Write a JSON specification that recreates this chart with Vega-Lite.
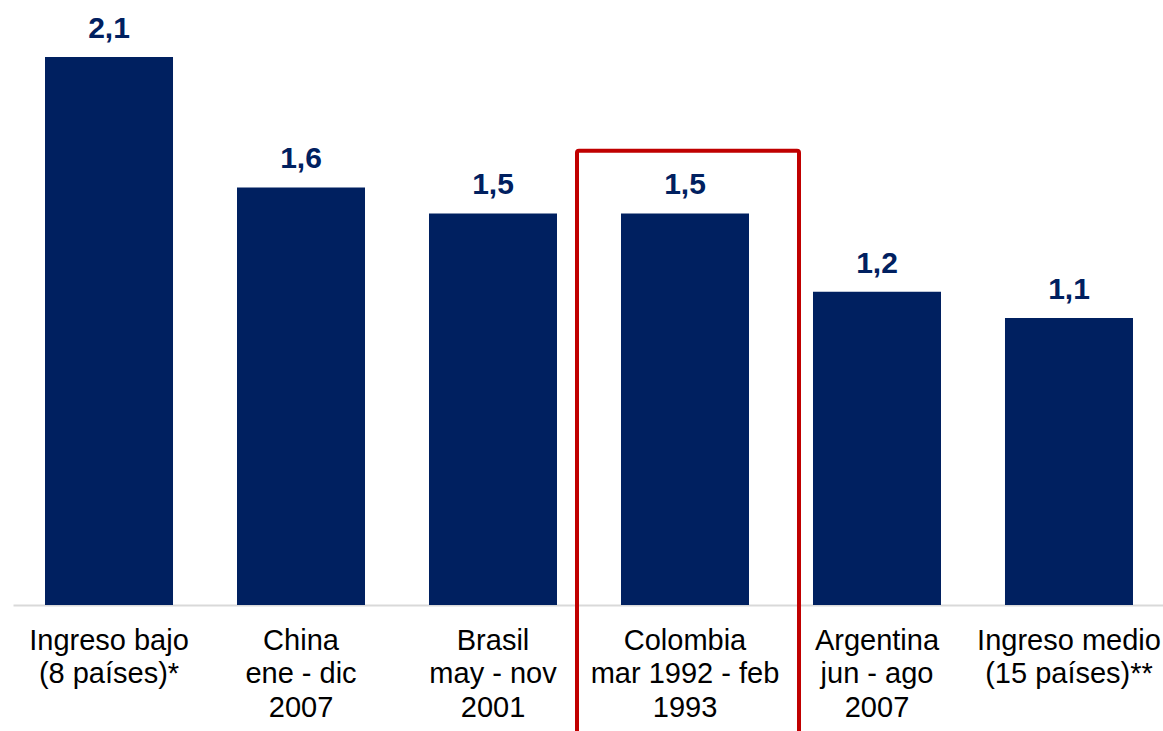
{
  "$schema": "https://vega.github.io/schema/vega-lite/v6.json",
  "width": 1152,
  "height": 605,
  "autosize": "none",
  "padding": {"left": 13, "top": 0, "right": 0, "bottom": 126},
  "background": "white",
  "config": {
    "view": {"stroke": null},
    "font": "Liberation Sans",
    "locale": {
      "number": {"decimal": ",", "thousands": ".", "grouping": [3], "currency": ["$", ""]}
    }
  },
  "data": {
    "values": [
      {"grupo": "Ingreso bajo|(8 países)*", "valor": 2.1, "destacado": false},
      {"grupo": "China|ene - dic|2007", "valor": 1.6, "destacado": false},
      {"grupo": "Brasil|may - nov|2001", "valor": 1.5, "destacado": false},
      {"grupo": "Colombia|mar 1992 - feb|1993", "valor": 1.5, "destacado": true},
      {"grupo": "Argentina|jun - ago|2007", "valor": 1.2, "destacado": false},
      {"grupo": "Ingreso medio|(15 países)**", "valor": 1.1, "destacado": false}
    ]
  },
  "encoding": {
    "x": {
      "field": "grupo",
      "type": "nominal",
      "sort": null,
      "scale": {"paddingInner": 0.3333, "paddingOuter": 0.1667},
      "axis": {
        "title": null,
        "labelAngle": 0,
        "labelExpr": "split(datum.value, '|')",
        "labelFont": "Liberation Sans",
        "labelFontSize": 29,
        "labelLineHeight": 33.5,
        "labelColor": "#000000",
        "labelPadding": 21,
        "labelLimit": 0,
        "labelOverlap": false,
        "labelBound": false,
        "ticks": false,
        "domainColor": "#d9d9d9",
        "domainWidth": 2,
        "grid": false
      }
    }
  },
  "layer": [
    {
      "mark": {"type": "bar", "color": "#002060"},
      "encoding": {
        "y": {
          "field": "valor",
          "type": "quantitative",
          "scale": {"domain": [0, 2.318], "nice": false},
          "axis": null
        }
      }
    },
    {
      "mark": {
        "type": "text",
        "dy": -19,
        "baseline": "alphabetic",
        "fontSize": 30,
        "fontWeight": "bold",
        "color": "#002060"
      },
      "encoding": {
        "y": {"field": "valor", "type": "quantitative"},
        "text": {"field": "valor", "type": "quantitative", "format": ".1f"}
      }
    },
    {
      "transform": [{"filter": "datum.destacado"}],
      "mark": {
        "type": "bar",
        "width": 222,
        "xOffset": 3,
        "filled": false,
        "fill": null,
        "stroke": "#c00000",
        "strokeWidth": 4,
        "cornerRadius": 2,
        "clip": false
      },
      "encoding": {
        "y": {"datum": 1.74, "type": "quantitative"},
        "y2": {"datum": -0.6}
      }
    }
  ]
}
